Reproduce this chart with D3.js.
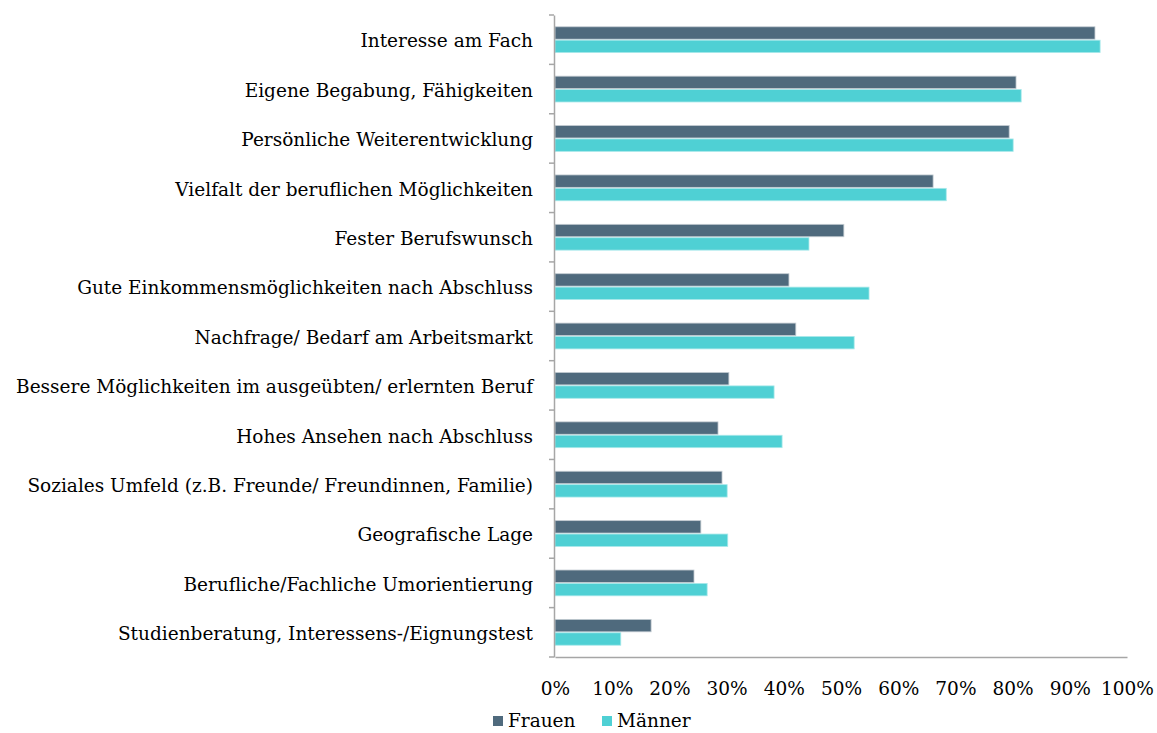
<!DOCTYPE html>
<html lang="de">
<head>
<meta charset="UTF-8">
<script src="https://d3js.org/d3.v7.min.js"></script>
<style>
  body { margin: 0; background: #fff; }
  text { font-family: "DejaVu Serif", "Liberation Serif", serif; fill: #000; }
</style>
</head>
<body>
<script>
  // Gründe für die Studienwahl (Anteil in %)
  const categories = [
    "Interesse am Fach",
    "Eigene Begabung, Fähigkeiten",
    "Persönliche Weiterentwicklung",
    "Vielfalt der beruflichen Möglichkeiten",
    "Fester Berufswunsch",
    "Gute Einkommensmöglichkeiten nach Abschluss",
    "Nachfrage/ Bedarf am Arbeitsmarkt",
    "Bessere Möglichkeiten im ausgeübten/ erlernten Beruf",
    "Hohes Ansehen nach Abschluss",
    "Soziales Umfeld (z.B. Freunde/ Freundinnen, Familie)",
    "Geografische Lage",
    "Berufliche/Fachliche Umorientierung",
    "Studienberatung, Interessens-/Eignungstest"
  ];
  const frauen = [94.4, 80.6, 79.4, 66.1, 50.5, 40.9, 42.1, 30.4, 28.5, 29.2, 25.5, 24.3, 16.8];
  const maenner = [95.3, 81.5, 80.1, 68.4, 44.4, 54.9, 52.3, 38.3, 39.7, 30.1, 30.2, 26.6, 11.5];
  const series = ["Frauen", "Männer"];
  const xTicks = [0, 10, 20, 30, 40, 50, 60, 70, 80, 90, 100];

  const width = 1157, height = 733;
  const margin = { top: 15, right: 30, bottom: 76, left: 555 };
  const colors = ["#4f6a7d", "#4fd0d4"];
  const axisColor = "#a6a6a6";
  const fontSize = 18.5;

  const svg = d3.select("body").append("svg")
    .attr("width", width)
    .attr("height", height);

  const x = d3.scaleLinear()
    .domain([0, 100])
    .range([margin.left, width - margin.right]);

  const y = d3.scaleBand()
    .domain(categories)
    .range([margin.top, height - margin.bottom]);

  const inner = d3.scaleBand()
    .domain(series)
    .range([y.bandwidth() / 2 - 13.4, y.bandwidth() / 2 + 13.4]);

  const rows = categories.map((c, i) => ({ c, vals: [frauen[i], maenner[i]] }));

  const g = svg.append("g").selectAll("g")
    .data(rows)
    .join("g")
    .attr("transform", d => `translate(0,${y(d.c)})`);

  g.selectAll("rect")
    .data(d => d.vals.map((v, k) => ({ v, k })))
    .join("rect")
    .attr("x", x(0))
    .attr("y", d => inner(series[d.k]) + 0.5)
    .attr("width", d => x(d.v) - x(0))
    .attr("height", inner.bandwidth() - 1)
    .attr("fill", d => colors[d.k])
    .attr("stroke", d => d.k === 0 ? "#c3cbd1" : "#a8e8ea")
    .attr("stroke-width", 0.8);

  // y axis
  const yAxis = svg.append("g")
    .attr("transform", `translate(${margin.left - 1},0)`)
    .call(d3.axisLeft(y).tickSize(0).tickPadding(21));
  yAxis.select(".domain").attr("stroke", axisColor).attr("stroke-width", 1.5);
  yAxis.selectAll("text").attr("font-size", fontSize).attr("font-family", null).attr("dy", "0.42em");

  // tick marks between categories
  const bounds = categories.map(c => y(c)).concat([height - margin.bottom]);
  svg.append("g").selectAll("line")
    .data(bounds)
    .join("line")
    .attr("x1", margin.left - 6)
    .attr("x2", margin.left - 1)
    .attr("y1", d => d)
    .attr("y2", d => d)
    .attr("stroke", axisColor)
    .attr("stroke-width", 1.5);

  // x axis
  const xAxis = svg.append("g")
    .attr("transform", `translate(0,${height - margin.bottom})`)
    .call(d3.axisBottom(x).tickValues(xTicks).tickFormat(d => d + "%").tickSize(0).tickPadding(25));
  xAxis.select(".domain").attr("stroke", axisColor).attr("stroke-width", 1.5);
  xAxis.selectAll("text").attr("font-size", fontSize).attr("font-family", null);

  // legend
  const legend = svg.append("g")
    .attr("transform", "translate(0,721)");
  const lx = [493, 602];
  series.forEach((s, i) => {
    legend.append("rect")
      .attr("x", lx[i])
      .attr("y", -5)
      .attr("width", 10)
      .attr("height", 10)
      .attr("fill", colors[i]);
    legend.append("text")
      .attr("x", lx[i] + 15)
      .attr("y", 0)
      .attr("dy", "0.35em")
      .attr("font-size", fontSize)
      .text(s);
  });
</script>
</body>
</html>
